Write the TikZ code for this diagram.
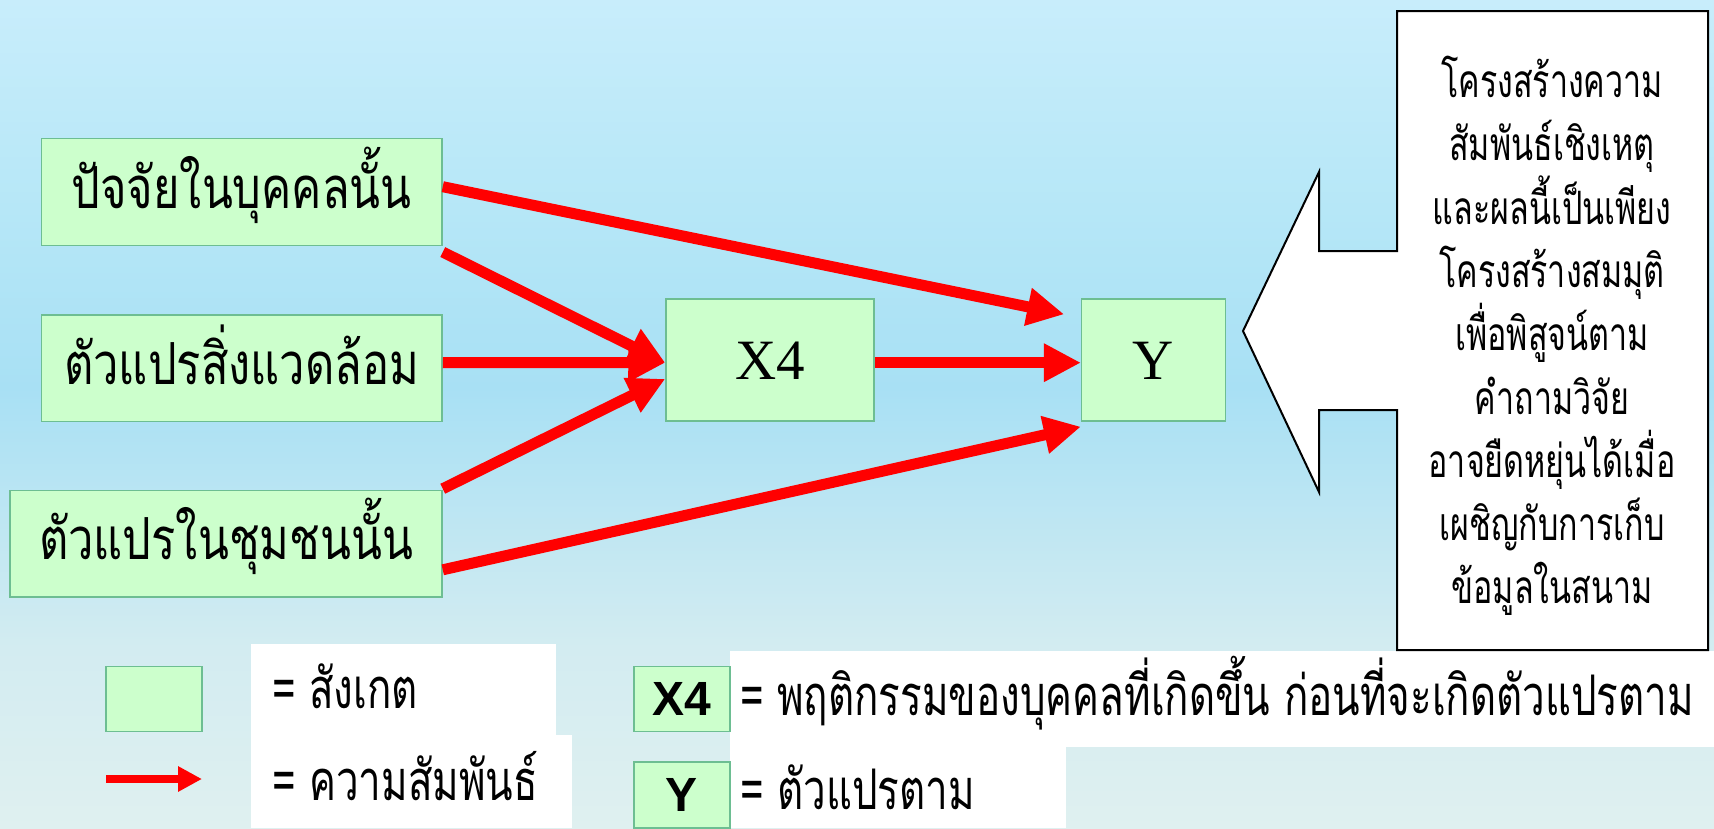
\documentclass[tikz,border=0pt]{standalone}
\usepackage{fontspec}
\setmainfont{Liberation Serif}
\newfontfamily\thaibox[Script=Thai,FakeStretch=0.78]{Loma}
\newfontfamily\thainote[Script=Thai,FakeStretch=0.7]{Loma}
\newfontfamily\thaicond[Script=Thai,FakeStretch=0.72]{Loma}
\newfontfamily\sansfam{Liberation Sans}
\usetikzlibrary{arrows.meta,calc}
\definecolor{boxfill}{HTML}{CCFFCC}
\definecolor{boxline}{HTML}{6DBE92}
\definecolor{bgA}{HTML}{C8EDFB}
\definecolor{bgB}{HTML}{B6E7F7}
\definecolor{bgC}{HTML}{A8E0F4}
\definecolor{bgD}{HTML}{D3ECF1}
\definecolor{bgE}{HTML}{DFF0F0}
\pgfdeclareverticalshading{bgshade}{100bp}{color(0bp)=(bgE); color(25bp)=(bgE); color(35.9bp)=(bgD); color(51.6bp)=(bgC); color(62.4bp)=(bgB); color(75bp)=(bgA); color(100bp)=(bgA)}
\tikzset{
  gbox/.style={draw=boxline, line width=1.5pt, fill=boxfill, inner sep=0pt, anchor=center},
  thaibig/.style={font=\thaibox\fontsize{58}{64}\selectfont, text height=32pt, text depth=0pt},
  latinbig/.style={font=\fontsize{57}{60}\selectfont, text height=40pt, text depth=0pt},
  rel/.style={draw=red, line width=11pt, -{Triangle[length=37pt,width=36pt]}},
  legtext/.style={anchor=base west, inner sep=0pt, font=\thaicond\fontsize{56}{60}\selectfont},
  legbox/.style={gbox, minimum width=96pt, minimum height=64.6pt, font=\sansfam\bfseries\fontsize{48}{50}\selectfont}
}
\begin{document}
\begin{tikzpicture}[x=1pt,y=-1pt]
\useasboundingbox (0,0) rectangle (1714,828);
\shade[shading=bgshade] (0,0) rectangle (1714,828);
% white legend backgrounds
\fill[white] (251,644) rectangle (556,735);
\fill[white] (251,735) rectangle (572,828);
\fill[white] (730,651) rectangle (1714,747);
\fill[white] (730,747) rectangle (1066,828);
% callout
\draw[line width=2pt, fill=white] (1397,11) -- (1708,11) -- (1708,650) -- (1397,650) -- (1397,410) -- (1319,410) -- (1319,492) -- (1243,331) -- (1319,172) -- (1319,251) -- (1397,251) -- cycle;
\node[align=center, font=\thainote\fontsize{46}{63.3}\selectfont, inner sep=0pt] (note) at (1552,336) {โครงสร้างความ\\สัมพันธ์เชิงเหตุ\\และผลนี้เป็นเพียง\\โครงสร้างสมมุติ\\เพื่อพิสูจน์ตาม\\คำถามวิจัย\\อาจยืดหยุ่นได้เมื่อ\\เผชิญกับการเก็บ\\ข้อมูลในสนาม};
% boxes
\node[gbox, thaibig, minimum width=400.5pt, minimum height=106.6pt] (b1) at (241.75,192) {ปัจจัยในบุคคลนั้น};
\node[gbox, thaibig, minimum width=400.5pt, minimum height=106.6pt] (b2) at (241.75,368.3) {ตัวแปรสิ่งแวดล้อม};
\node[gbox, thaibig, minimum width=432pt, minimum height=106.6pt] (b3) at (226,543.8) {ตัวแปรในชุมชนนั้น};
\node[gbox, latinbig, minimum width=208pt, minimum height=121.7pt] (x4) at (770,359.9) {X4};
\node[gbox, latinbig, minimum width=143.7pt, minimum height=121.7pt] (y) at (1153.5,359.9) {Y};
% arrows
\draw[rel] ($(b1.east)+(0,-5.3)$) -- ($(y.west)+(-16.7,-45.6)$);
\draw[rel] ($(b1.south east)+(0,6)$) -- ($(x4.west)+(0,2.8)$);
\draw[rel] ($(b2.east)+(0,-5.8)$) -- ($(x4.west)+(0,2.8)$);
\draw[rel] ($(b3.north east)+(0,-1)$) -- ($(x4.west)+(0,19)$);
\draw[rel] ($(b3.east)+(0,26)$) -- ($(y.west)+(0,66.8)$);
\draw[rel] ($(x4.east)+(0,2.8)$) -- ($(y.west)+(0,2.8)$);
% legend
\node[gbox, minimum width=96pt, minimum height=64.6pt] (lg) at (154,699) {};
\coordinate (la1) at (106,779);
\coordinate (la2) at (202,779);
\draw[draw=red, line width=8pt, -{Triangle[length=24pt,width=24pt]}] (la1) -- (la2);
\node[legbox] (lx) at (682,699) {X4};
\node[legbox, minimum height=66pt] (ly) at (682,795) {Y};
\node[legtext] (t1) at (272,708) {= สังเกต};
\node[legtext] (t2) at (272,800) {= ความสัมพันธ์};
\node[legtext] (t3) at (740,715) {= พฤติกรรมของบุคคลที่เกิดขึ้น ก่อนที่จะเกิดตัวแปรตาม};
\node[legtext] (t4) at (740,809) {= ตัวแปรตาม};
\end{tikzpicture}
\end{document}
